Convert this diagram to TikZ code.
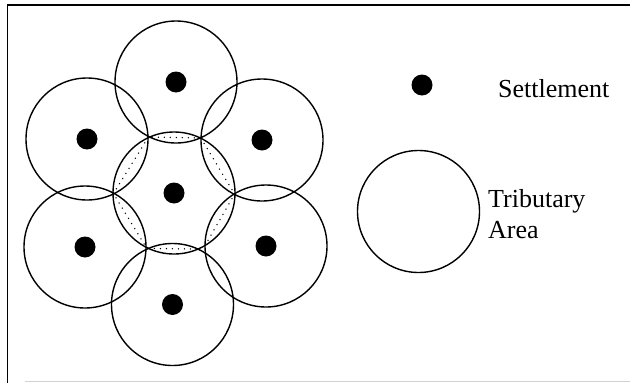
\documentclass[tikz,border=0pt]{standalone}
\usepackage{fontspec}
\setmainfont{Liberation Serif}
\usetikzlibrary{intersections}
\begin{document}
\begin{tikzpicture}[x=1pt,y=-1pt,
  settle/.style={circle,fill=black,inner sep=0pt,minimum size=21pt},
  area/.style={line width=1.4pt},
  chord/.style={line width=1.5pt,line cap=round,dash pattern=on 0pt off 6pt},
  lbl/.style={anchor=base west,inner sep=0pt,font=\fontsize{26}{31}\selectfont}]
\useasboundingbox (0,0) rectangle (630,383);
% frame
\draw[line width=1.8pt] (7.5,383) -- (7.5,5) -- (630,5);
\draw[gray!35,line width=1pt] (25,381.5) -- (630,381.5);
% settlements
\node[settle] (s0) at (174,193) {};
\node[settle] (s1) at (176,82) {};
\node[settle] (s2) at (262,140) {};
\node[settle] (s3) at (266,246) {};
\node[settle] (s4) at (172.5,304.5) {};
\node[settle] (s5) at (85,247) {};
\node[settle] (s6) at (87,139) {};
% tributary areas
\foreach \i in {0,...,6}{
  \draw[area,name path global=c\i] (s\i.center) circle[radius=61pt];
}
% dotted chords of the central hexagon
\foreach \i in {1,...,6}{
  \path[name intersections={of=c0 and c\i, name=p\i}];
  \draw[chord] (p\i-1) -- (p\i-2);
}
% legend
\node[settle] (leg) at (422,85) {};
\node[lbl] (settletxt) at (498,97) {Settlement};
\node[circle,draw,area,inner sep=0pt,minimum size=122pt] (trib) at (418.5,211.5) {};
\node[lbl] (tribtxt) at (488,207) {Tributary};
\node[lbl] (areatxt) at (488,238) {Area};
\end{tikzpicture}
\end{document}
